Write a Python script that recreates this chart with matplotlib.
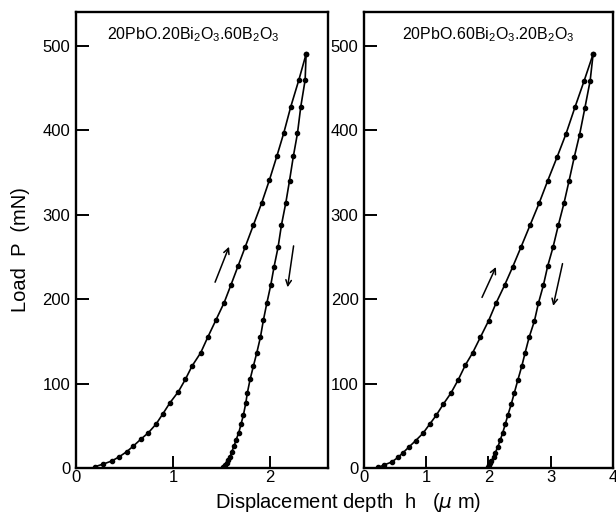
import matplotlib
matplotlib.use("Agg")
import matplotlib.pyplot as plt

plt.rcParams['font.family'] = ['Liberation Sans', 'DejaVu Sans']
plt.rcParams['mathtext.fontset'] = 'custom'
plt.rcParams['mathtext.rm'] = 'Liberation Sans'

# ---- data ----
titles = ["20PbO.20Bi$_2$O$_3$.60B$_2$O$_3$", "20PbO.60Bi$_2$O$_3$.20B$_2$O$_3$"]

left_load_h = [0.196, 0.282, 0.368, 0.447, 0.522, 0.591, 0.667, 0.746, 0.825, 0.894,
               0.969, 1.055, 1.127, 1.196, 1.285, 1.357, 1.44, 1.526, 1.595, 1.67,
               1.742, 1.828, 1.914, 1.993, 2.07, 2.14, 2.213, 2.296, 2.371]
left_load_P = [1.6, 4.7, 8.3, 13.4, 19.3, 26, 34, 41.8, 52, 64,
               77.4, 90.4, 105, 120.8, 136.5, 154.7, 174.8, 195.7, 216.3, 239.2,
               261.3, 287.7, 314.1, 341, 369.4, 396.3, 427.8, 459.4, 490.2]
left_unload_h = [2.371, 2.361, 2.316, 2.282, 2.24, 2.2, 2.162, 2.117, 2.082, 2.041,
                 2.007, 1.966, 1.931, 1.9, 1.863, 1.828, 1.794, 1.766, 1.749, 1.725,
                 1.701, 1.677, 1.649, 1.629, 1.605, 1.588, 1.567, 1.553, 1.536, 1.519, 1.51]
left_unload_P = [490.2, 459.4, 427.8, 396.3, 369.4, 340.2, 314.1, 287.7, 261.3, 238.4,
                 216.7, 195, 175.2, 154.7, 136.5, 120.8, 105, 89.2, 76.6, 62.8,
                 52.1, 41.8, 33.2, 26, 19.3, 13.4, 9.5, 6.3, 3.6, 1.6, 0.5]

right_load_h = [0.232, 0.322, 0.445, 0.546, 0.626, 0.728, 0.829, 0.946, 1.053, 1.16,
                1.272, 1.394, 1.512, 1.629, 1.746, 1.869, 2.002, 2.12, 2.258, 2.386,
                2.525, 2.669, 2.813, 2.952, 3.101, 3.245, 3.389, 3.538, 3.682]
right_load_P = [0.8, 3.6, 7.1, 12.6, 18.1, 25.3, 32.4, 41, 51.7, 62.4,
                75.4, 88.4, 104.2, 122, 136.5, 154.7, 174.4, 195, 216.3, 237.6,
                262, 287.7, 313.4, 340.2, 367.9, 395.5, 427, 458.6, 490.2]
right_unload_h = [3.682, 3.634, 3.549, 3.464, 3.378, 3.293, 3.213, 3.122, 3.037, 2.952,
                  2.882, 2.802, 2.738, 2.653, 2.589, 2.536, 2.472, 2.413, 2.365, 2.312,
                  2.269, 2.226, 2.189, 2.152, 2.109, 2.082, 2.045, 2.029, 2.008, 1.992]
right_unload_P = [490.2, 458.6, 426.2, 394.6, 367.9, 339.4, 313.4, 287.3, 261.3, 239.2,
                  216.3, 195, 174, 154.7, 136.5, 120.8, 104.2, 88.4, 75.4, 62.8,
                  51.7, 41, 33.2, 25.3, 18.1, 12.6, 8.7, 5.5, 3.2, 0.8]

# arrows: (tail_h, tail_P, head_h, head_P)
left_arrows = [(1.433, 220, 1.577, 262), (2.242, 263, 2.18, 214)]
right_arrows = [(1.896, 202, 2.12, 238), (3.19, 242, 3.04, 192)]

y_ticks = [0, 100, 200, 300, 400, 500]
left_x_ticks = [0, 1, 2]
right_x_ticks = [0, 1, 2, 3, 4]

# ---- figure ----
fig = plt.figure(figsize=(6.16, 5.2), dpi=100)
ax1 = fig.add_axes([0.1234, 0.1, 0.4096, 0.877])
ax2 = fig.add_axes([0.591, 0.1, 0.404, 0.877])

panels = [
    (ax1, titles[0], left_load_h, left_load_P, left_unload_h, left_unload_P,
     left_arrows, left_x_ticks, 2.6, 0.466),
    (ax2, titles[1], right_load_h, right_load_P, right_unload_h, right_unload_P,
     right_arrows, right_x_ticks, 4.0, 0.498),
]

for ax, title, lh, lP, uh, uP, arrows, xt, xmax, tx in panels:
    ax.plot(lh, lP, '-o', color='black', lw=1.2, ms=3.0, mfc='black', mec='black')
    ax.plot(uh, uP, '-o', color='black', lw=1.2, ms=3.0, mfc='black', mec='black')
    for (t_h, t_P, h_h, h_P) in arrows:
        ax.annotate('', xy=(h_h, h_P), xytext=(t_h, t_P),
                    arrowprops=dict(arrowstyle='->', color='black', lw=1.1,
                                    mutation_scale=10, shrinkA=0, shrinkB=0))
    ax.set_xlim(0, xmax)
    ax.set_ylim(0, 540)
    ax.set_xticks(xt)
    ax.set_yticks(y_ticks)
    ax.tick_params(direction='in', length=9, width=1.4, labelsize=12)
    ax.tick_params(axis='y', pad=4)
    ax.tick_params(axis='x', pad=1.5)
    for s in ax.spines.values():
        s.set_linewidth(1.7)
    ax.text(tx, 0.95, title, transform=ax.transAxes, ha='center', va='center',
            fontsize=11.5)

fig.text(0.034, 0.52, "Load  P  (mN)", rotation=90, ha='center', va='center',
         fontsize=14.5)
fig.text(0.565, 0.033, "Displacement depth  h   ($\\mu$ m)", ha='center', va='center',
         fontsize=14.5)

fig.savefig("out.png", dpi=100)
